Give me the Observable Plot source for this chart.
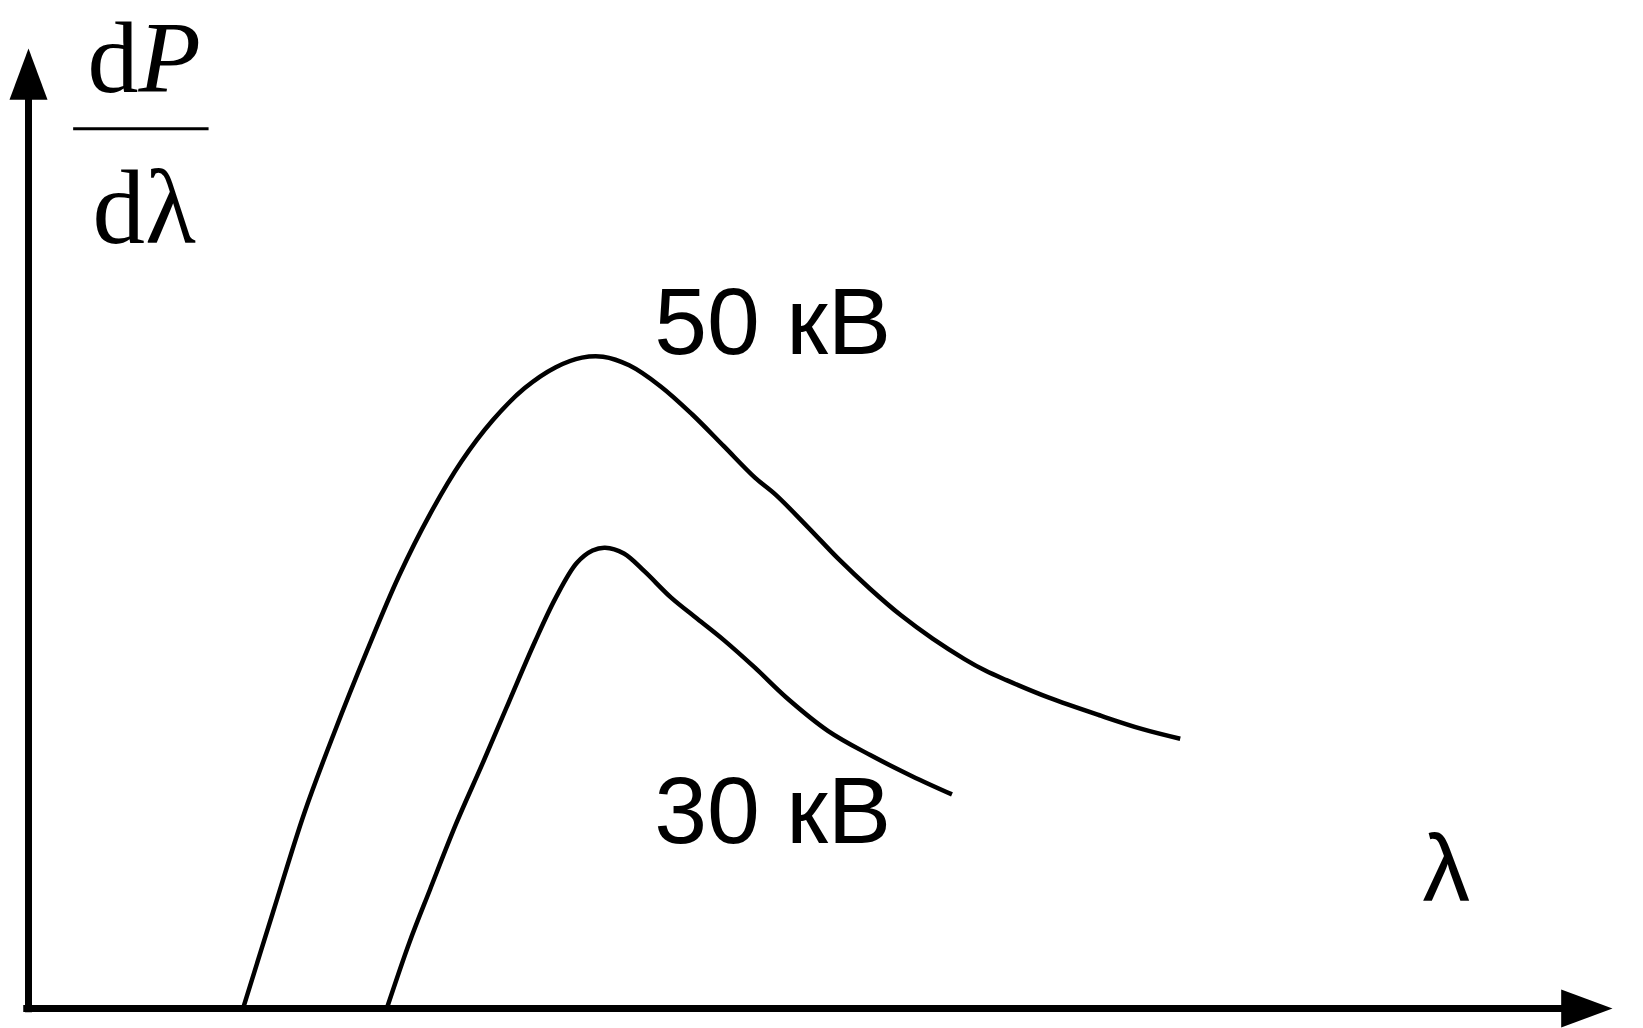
<!DOCTYPE html>
<html><head><meta charset="utf-8">
<script src="https://cdn.jsdelivr.net/npm/d3@7"></script>
<script src="https://cdn.jsdelivr.net/npm/@observablehq/plot@0.6"></script>
<style>html,body{margin:0;padding:0;background:#fff} svg{display:block}</style>
</head><body><div id="chart"></div>
<script>
// Spectral curves (arbitrary units): wavelength λ and dP/dλ
const lambda50 = [13.6, 15.43, 17.42, 19.27, 21.38, 23.37, 25.35, 27.34, 29.32, 31.31, 33.29, 34.94, 36.27, 37.92, 39.91, 41.89, 43.88, 45.86, 47.18, 49.17, 51.15, 53.14, 55.12, 57.10, 59.09, 60.40, 61.74, 64.38, 67.69, 70.33, 72.71];
const power50  = [0.3, 10.0, 20.4, 28.6, 37.3, 45.0, 51.5, 57.0, 61.3, 64.6, 66.8, 67.8, 67.9, 67.0, 64.8, 61.9, 58.6, 55.3, 53.5, 50.2, 46.8, 43.7, 40.9, 38.5, 36.4, 35.2, 34.2, 32.4, 30.5, 29.1, 28.1];
const lambda30 = [22.66, 24.03, 25.35, 27.01, 28.66, 30.32, 31.97, 33.29, 34.61, 35.61, 36.40, 37.59, 38.91, 40.57, 42.22, 43.88, 45.86, 47.84, 50.49, 53.14, 55.78, 58.30];
const power30  = [0.2, 6.8, 12.4, 19.3, 25.5, 31.9, 38.2, 42.8, 46.4, 47.7, 48.0, 47.4, 45.5, 42.8, 40.6, 38.4, 35.5, 32.4, 28.9, 26.4, 24.2, 22.3];

const curveNames = ["50 кВ", "30 кВ"];
const curveLabelX = [39.5, 39.5];
const curveLabelY = [68.2, 17.2];

const xAxisLabel = "λ";
const xAxisLabelPos = [88.0, 11.25];

// y-axis label: fraction dP / dλ
const fracNumer = ["d", "P"];
const fracDenom = ["d", "λ"];
const fracNumerPos = [6.95, 95.5];
const fracDenomPos = [7.36, 79.7];
const fracBarX = [2.85, 11.4];
const fracBarY = 91.65;

const series = [
  ...lambda50.map((l, i) => ({kv: "50", lambda: l, p: power50[i]})),
  ...lambda30.map((l, i) => ({kv: "30", lambda: l, p: power30[i]}))
];
const curveLabels = curveNames.map((t, i) => ({t, x: curveLabelX[i], y: curveLabelY[i]}));

// filled arrowheads with the tip at the anchor point
const headRight = {draw(ctx, size) { const r = Math.sqrt(size / Math.PI); const L = 2.7 * r;
  ctx.moveTo(0, 0); ctx.lineTo(-L, -r); ctx.lineTo(-L, r); ctx.closePath(); }};
const headUp = {draw(ctx, size) { const r = Math.sqrt(size / Math.PI); const L = 2.7 * r;
  ctx.moveTo(0, 0); ctx.lineTo(-r, L); ctx.lineTo(r, L); ctx.closePath(); }};

const serif = "Liberation Serif, Times New Roman, serif";
const sans = "Liberation Sans, Arial, sans-serif";

const chart = Plot.plot({
  width: 1643, height: 1028,
  marginLeft: 28, marginRight: 31, marginTop: 48, marginBottom: 20,
  x: {domain: [0, 100], axis: null},
  y: {domain: [0, 100], axis: null},
  style: {background: "#fff", overflow: "visible"},
  marks: [
    Plot.ruleY([0], {x1: () => -0.3, x2: () => 97, stroke: "#000", strokeWidth: 7}),
    Plot.ruleX([0], {y1: () => -0.45, y2: () => 95, stroke: "#000", strokeWidth: 7}),
    Plot.dot([[100, 0]], {x: d => d[0], y: d => d[1], symbol: headRight, r: 19, fill: "#000", stroke: "none"}),
    Plot.dot([[0, 100]], {x: d => d[0], y: d => d[1], symbol: headUp, r: 19, fill: "#000", stroke: "none"}),
    Plot.line(series, {x: "lambda", y: "p", z: "kv", curve: "catmull-rom", stroke: "#000", strokeWidth: 4.5, strokeLinecap: "butt"}),
    Plot.text(curveLabels, {x: "x", y: "y", text: "t", textAnchor: "start", lineAnchor: "bottom",
      fontSize: 95, fontFamily: sans, fill: "#000"}),
    Plot.text([xAxisLabel], {x: () => xAxisLabelPos[0], y: () => xAxisLabelPos[1], text: d => d, textAnchor: "start", lineAnchor: "bottom",
      fontSize: 95, fontFamily: sans, fill: "#000"}),
    Plot.text([fracNumer[0]], {x: () => fracNumerPos[0], y: () => fracNumerPos[1], text: d => d, textAnchor: "end", lineAnchor: "bottom",
      fontSize: 102, fontFamily: serif, fill: "#000"}),
    Plot.text([fracNumer[1]], {x: () => fracNumerPos[0], y: () => fracNumerPos[1], text: d => d, textAnchor: "start", lineAnchor: "bottom",
      fontSize: 102, fontStyle: "italic", fontFamily: serif, fill: "#000"}),
    Plot.text([fracDenom[0]], {x: () => fracDenomPos[0], y: () => fracDenomPos[1], text: d => d, textAnchor: "end", lineAnchor: "bottom",
      fontSize: 105, fontFamily: serif, fill: "#000"}),
    Plot.text([fracDenom[1]], {x: () => fracDenomPos[0], y: () => fracDenomPos[1], text: d => d, textAnchor: "start", lineAnchor: "bottom",
      fontSize: 105, fontFamily: serif, fill: "#000"}),
    Plot.ruleY([fracBarY], {x1: () => fracBarX[0], x2: () => fracBarX[1], stroke: "#000", strokeWidth: 3})
  ]
});
document.getElementById("chart").append(chart);
</script></body></html>
